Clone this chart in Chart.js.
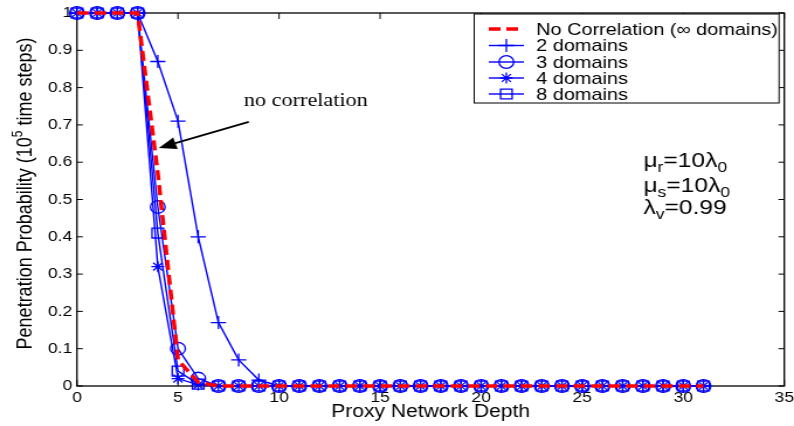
<!DOCTYPE html>
<html>
<head>
<meta charset="utf-8">
<script src="https://cdn.jsdelivr.net/npm/chart.js@4/dist/chart.umd.min.js"></script>
<style>
  html, body { margin: 0; padding: 0; background: #fff; overflow: hidden; }
  #wrap { width: 679px; height: 426px; transform: scaleX(1.1694); transform-origin: 0 0; }
  canvas { display: block; }
</style>
</head>
<body>
<div id="wrap"><canvas id="c" width="679" height="426"></canvas></div>
<script>
// Proxy network depth (x) and penetration probability per configuration (y)
const depth = [0, 1, 2, 3, 4, 5, 6, 7, 8, 9, 10, 11, 12, 13, 14, 15,
               16, 17, 18, 19, 20, 21, 22, 23, 24, 25, 26, 27, 28, 29, 30, 31];
const noCorrelation = [1, 1, 1, 1, 0.57, 0.07, 0.01, 0, 0, 0, 0, 0, 0, 0, 0, 0,
                       0, 0, 0, 0, 0, 0, 0, 0, 0, 0, 0, 0, 0, 0, 0, 0];
const twoDomains   = [1, 1, 1, 1, 0.87, 0.71, 0.40, 0.17, 0.07, 0.016, 0, 0, 0, 0, 0, 0,
                      0, 0, 0, 0, 0, 0, 0, 0, 0, 0, 0, 0, 0, 0, 0, 0];
const threeDomains = [1, 1, 1, 1, 0.48, 0.10, 0.02, 0, 0, 0, 0, 0, 0, 0, 0, 0,
                      0, 0, 0, 0, 0, 0, 0, 0, 0, 0, 0, 0, 0, 0, 0, 0];
const fourDomains  = [1, 1, 1, 1, 0.32, 0.02, 0.003, 0, 0, 0, 0, 0, 0, 0, 0, 0,
                      0, 0, 0, 0, 0, 0, 0, 0, 0, 0, 0, 0, 0, 0, 0, 0];
const eightDomains = [1, 1, 1, 1, 0.41, 0.04, 0.005, 0, 0, 0, 0, 0, 0, 0, 0, 0,
                      0, 0, 0, 0, 0, 0, 0, 0, 0, 0, 0, 0, 0, 0, 0, 0];

const seriesLabels = ['No Correlation (\u221E domains)', '2 domains', '3 domains', '4 domains', '8 domains'];
const xTickValues = [0, 5, 10, 15, 20, 25, 30, 35];
const yTickValues = [0, 0.1, 0.2, 0.3, 0.4, 0.5, 0.6, 0.7, 0.8, 0.9, 1];

const xTitle = 'Proxy Network Depth';
const yTitleParts = ['Penetration Probability (10', '5', ' time steps)'];

// Callout: text, arrow tail and head in data units
const noteText = 'no correlation';
const noteAt = [8.26, 0.751];
const arrowFrom = [8.5, 0.708];
const arrowTo = [4.05, 0.638];

// Parameter block (base, subscript, rest, subscript)
const paramLines = [
  ['\u03BC', 'r', '=10\u03BB', '0'],
  ['\u03BC', 's', '=10\u03BB', '0'],
  ['\u03BB', 'v', '=0.99', '']
];
const paramAt = [28.03, [0.587, 0.520, 0.462]];

const SANS = '"Liberation Sans", Arial, sans-serif';
const SERIF = '"Liberation Serif", "Times New Roman", serif';
const BLUE = '#0000ff';

function pts(ys) { return depth.map((x, i) => ({ x: x, y: ys[i] })); }

function blueSet(label, ys, style, r) {
  return {
    label: label, data: pts(ys),
    borderColor: BLUE, borderWidth: 1.4,
    pointStyle: style, pointRadius: r, pointHoverRadius: r,
    pointBorderColor: BLUE, pointBorderWidth: 1.3,
    pointBackgroundColor: 'rgba(0,0,0,0)',
    clip: false, tension: 0
  };
}

const datasets = [
  {
    label: seriesLabels[0], data: pts(noCorrelation),
    borderColor: '#ff0000', borderWidth: 3.5, borderDash: [10, 5],
    pointRadius: 0, pointHoverRadius: 0, pointStyle: false,
    clip: false, tension: 0
  },
  blueSet(seriesLabels[1], twoDomains, 'cross', 6.5),
  blueSet(seriesLabels[2], threeDomains, 'circle', 6.3),
  blueSet(seriesLabels[3], fourDomains, 'star', 5.5),
  blueSet(seriesLabels[4], eightDomains, 'rect', 7)
];

const framePlugin = {
  id: 'frame',
  beforeDatasetsDraw(chart) {
    const { ctx, chartArea: a, scales: { x, y } } = chart;
    ctx.save();
    ctx.strokeStyle = '#000';
    ctx.lineWidth = 1.3;
    ctx.strokeRect(a.left, a.top, a.right - a.left, a.bottom - a.top);
    ctx.lineWidth = 1;
    ctx.beginPath();
    xTickValues.forEach(v => {
      const px = x.getPixelForValue(v);
      ctx.moveTo(px, a.bottom); ctx.lineTo(px, a.bottom - 6);
      ctx.moveTo(px, a.top); ctx.lineTo(px, a.top + 6);
    });
    yTickValues.forEach(v => {
      const py = y.getPixelForValue(v);
      ctx.moveTo(a.left, py); ctx.lineTo(a.left + 5, py);
      ctx.moveTo(a.right, py); ctx.lineTo(a.right - 5, py);
    });
    ctx.stroke();
    ctx.restore();
  },
  afterDraw(chart) {
    const { ctx, chartArea: a, scales: { x, y } } = chart;
    ctx.save();

    // axis titles
    ctx.fillStyle = '#000';
    ctx.font = '18px ' + SANS;
    ctx.textAlign = 'center';
    ctx.textBaseline = 'alphabetic';
    ctx.fillText(xTitle, (a.left + a.right) / 2, 417);

    ctx.save();
    ctx.translate(27, 193.5);
    ctx.rotate(-Math.PI / 2);
    ctx.textAlign = 'left';
    const big = '18px ' + SANS, small = '12px ' + SANS;
    ctx.font = big;
    const w0 = ctx.measureText(yTitleParts[0]).width;
    const w2 = ctx.measureText(yTitleParts[2]).width;
    ctx.font = small;
    const w1 = ctx.measureText(yTitleParts[1]).width;
    let cx = -(w0 + w1 + w2) / 2;
    ctx.font = big; ctx.fillText(yTitleParts[0], cx, 0); cx += w0;
    ctx.font = small; ctx.fillText(yTitleParts[1], cx, -8); cx += w1;
    ctx.font = big; ctx.fillText(yTitleParts[2], cx, 0);
    ctx.restore();

    // callout text and arrow
    ctx.font = '19px ' + SERIF;
    ctx.textAlign = 'left';
    ctx.fillText(noteText, x.getPixelForValue(noteAt[0]), y.getPixelForValue(noteAt[1]));
    const x1 = x.getPixelForValue(arrowFrom[0]), y1 = y.getPixelForValue(arrowFrom[1]);
    const x2 = x.getPixelForValue(arrowTo[0]), y2 = y.getPixelForValue(arrowTo[1]);
    const ang = Math.atan2(y2 - y1, x2 - x1);
    const hl = 15, hw = 6;
    const bx = x2 - hl * Math.cos(ang), by = y2 - hl * Math.sin(ang);
    ctx.strokeStyle = '#000';
    ctx.lineWidth = 1.8;
    ctx.beginPath(); ctx.moveTo(x1, y1); ctx.lineTo(bx, by); ctx.stroke();
    ctx.beginPath();
    ctx.moveTo(x2, y2);
    ctx.lineTo(bx + hw * Math.sin(ang), by - hw * Math.cos(ang));
    ctx.lineTo(bx - hw * Math.sin(ang), by + hw * Math.cos(ang));
    ctx.closePath(); ctx.fill();

    // parameter block
    const px0 = x.getPixelForValue(paramAt[0]);
    paramLines.forEach((parts, i) => {
      const py = y.getPixelForValue(paramAt[1][i]);
      let cx2 = px0;
      [[parts[0], 21, 0], [parts[1], 15, 5], [parts[2], 21, 0], [parts[3], 15, 5]].forEach(([t, s, dy]) => {
        if (!t) return;
        ctx.font = s + 'px ' + SANS;
        ctx.fillText(t, cx2, py + dy);
        cx2 += ctx.measureText(t).width;
      });
    });

    // legend box
    const L = 405.5, T = 14, R = 666.2, B = 103;
    ctx.fillStyle = '#fff';
    ctx.fillRect(L, T, R - L, B - T);
    ctx.strokeStyle = '#000';
    ctx.lineWidth = 1;
    ctx.strokeRect(L, T, R - L, B - T);
    const rows = [29, 45.5, 62, 78, 94];
    chart.data.datasets.forEach((ds, i) => {
      const yy = rows[i];
      ctx.save();
      ctx.strokeStyle = ds.borderColor;
      ctx.lineWidth = ds.borderWidth;
      ctx.setLineDash(ds.borderDash || []);
      ctx.beginPath(); ctx.moveTo(418, yy); ctx.lineTo(448, yy); ctx.stroke();
      ctx.setLineDash([]);
      if (ds.pointRadius > 0) {
        ctx.strokeStyle = ds.pointBorderColor;
        ctx.fillStyle = 'rgba(0,0,0,0)';
        ctx.lineWidth = ds.pointBorderWidth;
        Chart.helpers.drawPoint(ctx, { pointStyle: ds.pointStyle, rotation: 0, radius: ds.pointRadius, borderWidth: ds.pointBorderWidth }, 433, yy);
      }
      ctx.restore();
      ctx.fillStyle = '#000';
      ctx.font = '17px ' + SANS;
      ctx.textAlign = 'left';
      ctx.textBaseline = 'middle';
      ctx.fillText(ds.label, 458.5, yy + 1);
    });
    ctx.restore();
  }
};

const tickFont = { family: 'Liberation Sans', size: 15 };

new Chart(document.getElementById('c'), {
  type: 'line',
  data: { datasets: datasets },
  options: {
    responsive: false,
    animation: false,
    events: [],
    layout: { padding: { left: 0, right: 7.7, top: 13, bottom: 0 } },
    plugins: { legend: { display: false }, tooltip: { enabled: false } },
    scales: {
      x: {
        type: 'linear', min: 0, max: 35,
        afterBuildTicks: s => { s.ticks = xTickValues.map(v => ({ value: v })); },
        afterFit: s => { s.height = 40; s.paddingLeft = 0; s.paddingRight = 0; },
        ticks: { font: tickFont, color: '#000', padding: 3, maxRotation: 0, autoSkip: false,
                 callback: v => String(v) },
        grid: { display: false, drawTicks: false },
        border: { display: false }
      },
      y: {
        type: 'linear', min: 0, max: 1,
        afterBuildTicks: s => { s.ticks = yTickValues.map(v => ({ value: v })); },
        afterFit: s => { s.width = 65.8; s.paddingTop = 0; s.paddingBottom = 0; },
        ticks: { font: tickFont, color: '#000', padding: 4, autoSkip: false,
                 callback: v => String(Math.round(v * 10) / 10) },
        grid: { display: false, drawTicks: false },
        border: { display: false }
      }
    }
  },
  plugins: [framePlugin]
});
</script>
</body>
</html>
